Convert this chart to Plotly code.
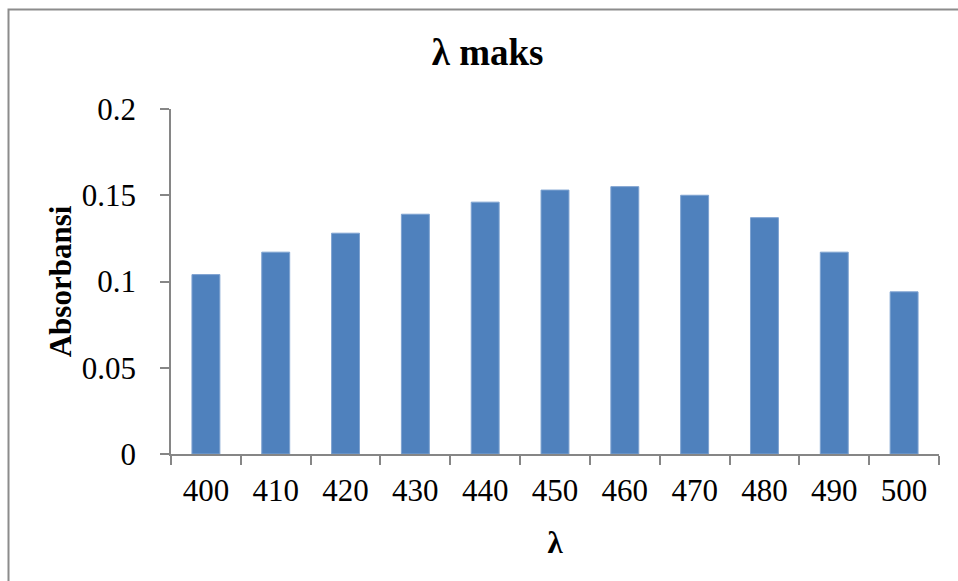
import plotly.graph_objects as go

# Absorbance measured at each wavelength (nm)
wavelengths = ["400", "410", "420", "430", "440", "450", "460", "470", "480", "490", "500"]
absorbance = [0.104, 0.117, 0.128, 0.139, 0.146, 0.153, 0.155, 0.150, 0.137, 0.117, 0.094]
y_ticks = [0, 0.05, 0.1, 0.15, 0.2]
y_tick_text = ["0", "0.05", "0.1", "0.15", "0.2"]

FONT = "Liberation Serif"
AXIS_GRAY = "#868686"

fig = go.Figure(
    go.Bar(
        x=wavelengths,
        y=absorbance,
        marker=dict(color="#4F81BD", line=dict(color="#7FA3D1", width=1)),
        width=0.4,
        hoverinfo="x+y",
    )
)

fig.update_layout(
    width=958,
    height=581,
    margin=dict(l=171, r=19, t=109, b=127),
    paper_bgcolor="white",
    plot_bgcolor="white",
    showlegend=False,
    font=dict(family=FONT, color="black", size=31),
    title=dict(
        text="<b>λ maks</b>",
        x=0.509,
        xanchor="center",
        y=1 - 52 / 581,
        yanchor="middle",
        font=dict(family=FONT, size=37, color="black"),
    ),
    xaxis=dict(
        type="category",
        showline=True,
        linecolor=AXIS_GRAY,
        linewidth=1.5,
        ticks="outside",
        tickson="boundaries",
        ticklen=9,
        tickcolor=AXIS_GRAY,
        tickwidth=1.5,
        ticklabelstandoff=8,
        tickfont=dict(family=FONT, size=31),
        title=dict(text="<b>λ</b>", font=dict(family=FONT, size=31), standoff=24),
        showgrid=False,
    ),
    yaxis=dict(
        range=[0, 0.2],
        tickvals=y_ticks,
        ticktext=y_tick_text,
        showline=True,
        linecolor=AXIS_GRAY,
        linewidth=1.5,
        ticks="outside",
        ticklen=9,
        tickcolor=AXIS_GRAY,
        tickwidth=1.5,
        ticklabelstandoff=18,
        tickfont=dict(family=FONT, size=31),
        title=dict(text="<b>Absorbansi</b>", font=dict(family=FONT, size=31), standoff=1),
        showgrid=False,
        zeroline=False,
    ),
    shapes=[
        # outer chart frame, running off the right and bottom edges
        dict(
            type="rect",
            xref="paper",
            yref="paper",
            x0=-171 / 768 + 8.5 / 768,
            x1=1.2,
            y0=-0.5,
            y1=1 + (109 - 9.5) / 345,
            line=dict(color="#8C8C8C", width=2),
            fillcolor="rgba(0,0,0,0)",
            layer="below",
        )
    ],
)

fig.write_html("out.html")
